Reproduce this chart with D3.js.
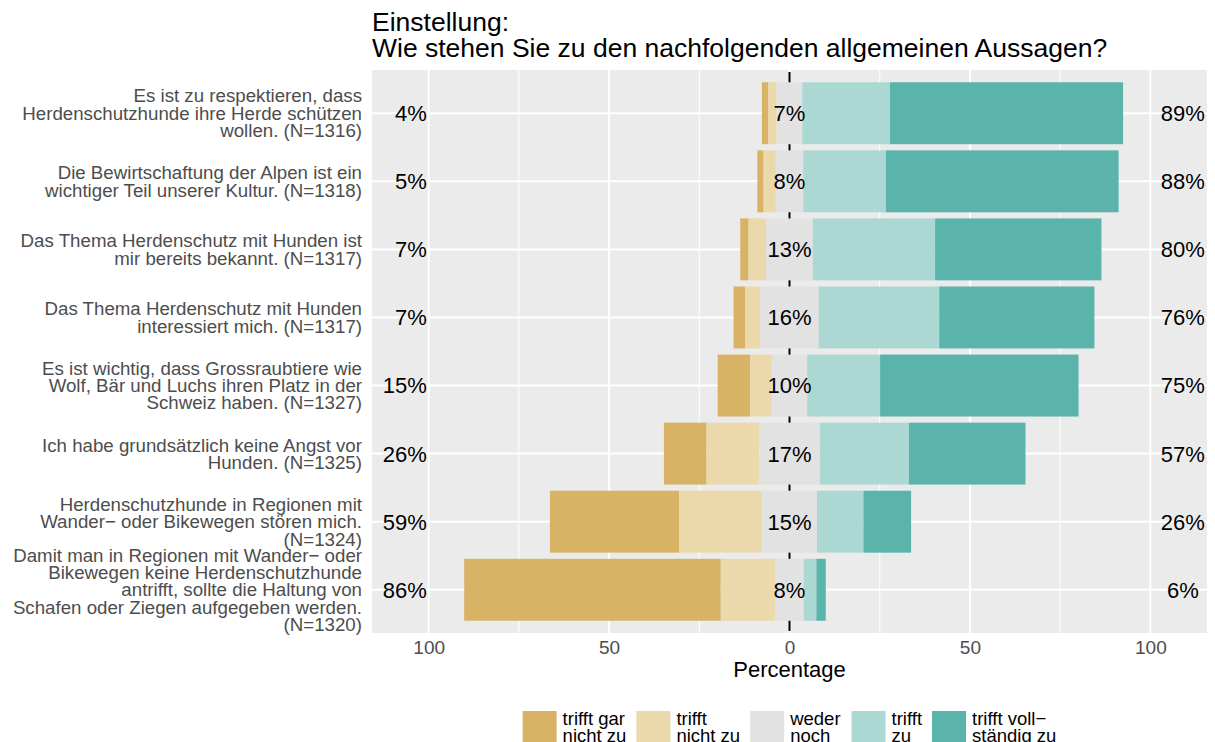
<!DOCTYPE html>
<html>
<head>
<meta charset="utf-8">
<script src="https://cdn.jsdelivr.net/npm/d3@7"></script>
<style>
	body { margin: 0; background: #fff; }
	svg { display: block; font-family: "Liberation Sans", Arial, sans-serif; }
</style>
</head>
<body>
<svg id="chart" width="1215" height="742"></svg>
<script>
/* eslint-disable no-var, no-undef */

// items, top to bottom (\n = line break in the axis label)
var items = [
	'Es ist zu respektieren, dass\nHerdenschutzhunde ihre Herde schützen\nwollen. (N=1316)',
	'Die Bewirtschaftung der Alpen ist ein\nwichtiger Teil unserer Kultur. (N=1318)',
	'Das Thema Herdenschutz mit Hunden ist\nmir bereits bekannt. (N=1317)',
	'Das Thema Herdenschutz mit Hunden\ninteressiert mich. (N=1317)',
	'Es ist wichtig, dass Grossraubtiere wie\nWolf, Bär und Luchs ihren Platz in der\nSchweiz haben. (N=1327)',
	'Ich habe grundsätzlich keine Angst vor\nHunden. (N=1325)',
	'Herdenschutzhunde in Regionen mit\nWander− oder Bikewegen stören mich.\n(N=1324)',
	'Damit man in Regionen mit Wander− oder\nBikewegen keine Herdenschutzhunde\nantrifft, sollte die Haltung von\nSchafen oder Ziegen aufgegeben werden.\n(N=1320)'
];

var levels = [ 'trifft gar\nnicht zu', 'trifft\nnicht zu', 'weder\nnoch', 'trifft\nzu', 'trifft voll−\nständig zu' ];
var colors = [ '#d8b365', '#ebd8ab', '#e2e2e2', '#acd8d3', '#5ab4ac' ];

// percentages per answer level
var garNichtZu = [ 1.8, 1.7, 2.3, 3.2, 9.0, 11.8, 35.8, 71.1 ];
var nichtZu = [ 2.3, 3.4, 4.9, 4.2, 6.0, 14.6, 23.0, 15.1 ];
var wederNoch = [ 7.1, 7.6, 12.9, 16.2, 9.8, 16.8, 15.2, 7.9 ];
var trifftZu = [ 24.3, 22.9, 33.9, 33.4, 20.2, 24.7, 12.9, 3.5 ];
var vollZu = [ 64.6, 64.5, 46.1, 43.0, 55.0, 32.3, 13.2, 2.6 ];

// printed percentages
var lowLabels = [ 4, 5, 7, 7, 15, 26, 59, 86 ];
var neutralLabels = [ 7, 8, 13, 16, 10, 17, 15, 8 ];
var highLabels = [ 89, 88, 80, 76, 75, 57, 26, 6 ];

var xTicks = [ -100, -50, 0, 50, 100 ];
var xMinor = [ -75, -25, 25, 75 ];

var svg = d3.select( '#chart' );
var panel = { left: 372, right: 1207, top: 70, bottom: 633 };

var x = d3.scaleLinear()
	.domain( [ -115.7, 115.7 ] )
	.range( [ panel.left, panel.right ] );

var y = d3.scaleBand()
	.domain( d3.range( items.length ) )
	.range( [ panel.top, panel.bottom ] )
	.paddingInner( 0.09 )
	.paddingOuter( 0.18 );

// stack: neutral split around zero, negatives to the left
var segs = [];
items.forEach( function( d, i ) {
	var half = wederNoch[ i ] / 2;
	segs.push( { i: i, k: 0, x0: -half - nichtZu[ i ] - garNichtZu[ i ], x1: -half - nichtZu[ i ] } );
	segs.push( { i: i, k: 1, x0: -half - nichtZu[ i ], x1: -half } );
	segs.push( { i: i, k: 2, x0: -half, x1: half } );
	segs.push( { i: i, k: 3, x0: half, x1: half + trifftZu[ i ] } );
	segs.push( { i: i, k: 4, x0: half + trifftZu[ i ], x1: half + trifftZu[ i ] + vollZu[ i ] } );
} );

// panel background + grid
svg.append( 'rect' )
	.attr( 'x', panel.left )
	.attr( 'y', panel.top )
	.attr( 'width', panel.right - panel.left )
	.attr( 'height', panel.bottom - panel.top )
	.attr( 'fill', '#ebebeb' );

var grid = svg.append( 'g' ).attr( 'stroke', '#fff' );
grid.selectAll( '.minor' )
	.data( xMinor )
	.enter().append( 'line' )
	.attr( 'x1', x ).attr( 'x2', x )
	.attr( 'y1', panel.top ).attr( 'y2', panel.bottom )
	.attr( 'stroke-width', 1 );
grid.selectAll( '.major' )
	.data( xTicks )
	.enter().append( 'line' )
	.attr( 'x1', x ).attr( 'x2', x )
	.attr( 'y1', panel.top ).attr( 'y2', panel.bottom )
	.attr( 'stroke-width', 2 );
grid.selectAll( '.row' )
	.data( d3.range( items.length ) )
	.enter().append( 'line' )
	.attr( 'x1', panel.left ).attr( 'x2', panel.right )
	.attr( 'y1', function( d ) { return y( d ) + y.bandwidth() / 2; } )
	.attr( 'y2', function( d ) { return y( d ) + y.bandwidth() / 2; } )
	.attr( 'stroke-width', 2 );

// zero line, only visible between the bars
svg.append( 'line' )
	.attr( 'x1', x( 0 ) ).attr( 'x2', x( 0 ) )
	.attr( 'y1', panel.top + 2 ).attr( 'y2', panel.bottom - 2 )
	.attr( 'stroke', '#000' )
	.attr( 'stroke-width', 2 );

svg.append( 'g' )
	.selectAll( 'rect' )
	.data( segs )
	.enter().append( 'rect' )
	.attr( 'x', function( d ) { return x( d.x0 ); } )
	.attr( 'width', function( d ) { return x( d.x1 ) - x( d.x0 ); } )
	.attr( 'y', function( d ) { return y( d.i ); } )
	.attr( 'height', y.bandwidth() )
	.attr( 'fill', function( d ) { return colors[ d.k ]; } );

// percentage labels
function pctLabels( values, xPos, anchor ) {
	svg.append( 'g' )
		.selectAll( 'text' )
		.data( values )
		.enter().append( 'text' )
		.attr( 'x', x( xPos ) )
		.attr( 'y', function( d, i ) { return y( i ) + y.bandwidth() / 2; } )
		.attr( 'dy', '0.36em' )
		.attr( 'text-anchor', anchor )
		.attr( 'font-size', 22 )
		.attr( 'fill', '#000' )
		.text( function( d ) { return d + '%'; } );
}
pctLabels( lowLabels, -100.5, 'end' );
pctLabels( neutralLabels, 0, 'middle' );
pctLabels( highLabels, 109, 'middle' );

// x axis
var xAxis = svg.append( 'g' )
	.attr( 'transform', 'translate(0,' + panel.bottom + ')' )
	.call( d3.axisBottom( x )
		.tickValues( xTicks )
		.tickSize( 0 )
		.tickPadding( 8 )
		.tickFormat( function( d ) { return Math.abs( d ); } ) );
xAxis.select( '.domain' ).remove();
xAxis.selectAll( 'text' )
	.attr( 'font-size', 19 )
	.attr( 'font-family', null )
	.attr( 'fill', '#4d4d4d' );

svg.append( 'text' )
	.attr( 'x', x( 0 ) )
	.attr( 'y', 677 )
	.attr( 'text-anchor', 'middle' )
	.attr( 'font-size', 22 )
	.text( 'Percentage' );

// y axis with multi-line labels
var lineH = 17.3;
var yAxis = svg.append( 'g' )
	.attr( 'transform', 'translate(' + panel.left + ',0)' )
	.call( d3.axisLeft( y ).tickSize( 0 ).tickPadding( 10 ) );
yAxis.select( '.domain' ).remove();
yAxis.selectAll( 'text' )
	.attr( 'font-size', 18.7 )
	.attr( 'font-family', null )
	.attr( 'fill', '#4d4d4d' )
	.attr( 'dy', null )
	.each( function( d ) {
		var lines = items[ d ].split( '\n' );
		var t = d3.select( this ).text( null );
		lines.forEach( function( line, j ) {
			t.append( 'tspan' )
				.attr( 'x', -10 )
				.attr( 'y', ( j - ( lines.length - 1 ) / 2 ) * lineH )
				.attr( 'dy', '0.35em' )
				.text( line );
		} );
	} );

// title
var title = svg.append( 'text' )
	.attr( 'x', panel.left )
	.attr( 'font-size', 26.5 )
	.attr( 'fill', '#000' );
title.append( 'tspan' ).attr( 'x', panel.left ).attr( 'y', 31 ).text( 'Einstellung:' );
title.append( 'tspan' ).attr( 'x', panel.left ).attr( 'y', 57 ).text( 'Wie stehen Sie zu den nachfolgenden allgemeinen Aussagen?' );

// legend, laid out from the measured label widths
var keyW = 34;
var keyH = 34;
var legend = svg.append( 'g' );
var items5 = legend.selectAll( 'g' )
	.data( levels )
	.enter().append( 'g' );
items5.append( 'rect' )
	.attr( 'width', keyW )
	.attr( 'height', keyH )
	.attr( 'fill', function( d, i ) { return colors[ i ]; } );
items5.append( 'text' )
	.attr( 'font-size', 18.5 )
	.attr( 'fill', '#000' )
	.each( function( d ) {
		var t = d3.select( this );
		d.split( '\n' ).forEach( function( line, j ) {
			t.append( 'tspan' )
				.attr( 'x', keyW + 6 )
				.attr( 'y', 14 + j * 17 )
				.text( line );
		} );
	} );
var widths = [];
items5.selectAll( 'text' ).each( function() {
	widths.push( this.getBBox().width );
} );
var total = d3.sum( widths ) + levels.length * ( keyW + 6 ) + ( levels.length - 1 ) * 10;
var cursor = x( 0 ) - total / 2;
items5.attr( 'transform', function( d, i ) {
	var tx = cursor;
	cursor += keyW + 6 + widths[ i ] + 10;
	return 'translate(' + tx + ',711)';
} );
</script>
</body>
</html>
